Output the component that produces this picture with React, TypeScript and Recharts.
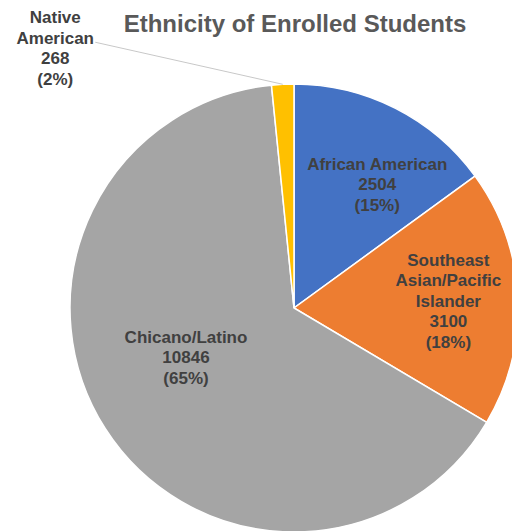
import { PieChart, Pie, Cell } from 'recharts';

const groups = ['African American', 'Southeast Asian/Pacific Islander', 'Chicano/Latino', 'Native American'];
const groupLines = [['African American'], ['Southeast', 'Asian/Pacific', 'Islander'], ['Chicano/Latino'], ['Native', 'American']];
const students = [2504, 3100, 10846, 268];
const percentText = ['15%', '18%', '65%', '2%'];
const colors = ['#4472C4', '#ED7D31', '#A5A5A5', '#FFC000'];

// label nudges (angle shift in degrees, radius factor) to mimic the office layout
const labelShift = [-7, 0, -8, 39.7];
const labelRadius = [0.665, 0.69, 0.53, 1.575];

const data = groups.map((g, i) => ({ name: g, value: students[i] }));

const RAD = Math.PI / 180;
const LINE_H = 20.5;

function SliceLabel(props: any) {
  const { cx, cy, midAngle, outerRadius, index } = props;
  const a = (midAngle + labelShift[index]) * RAD;
  const r = outerRadius * labelRadius[index];
  const x = cx + r * Math.cos(a);
  const y = cy - r * Math.sin(a);
  const lines = [...groupLines[index], String(students[index]), `(${percentText[index]})`];
  const top = y - ((lines.length - 1) * LINE_H) / 2;
  const edgeX = cx + outerRadius * Math.cos(midAngle * RAD);
  const edgeY = cy - outerRadius * Math.sin(midAngle * RAD);
  return (
    <g>
      {index === 3 && (
        <line x1={x + 40} y1={y - 6} x2={edgeX} y2={edgeY} stroke="#C8C8C8" strokeWidth={1} />
      )}
      <text
        x={x}
        y={top}
        textAnchor="middle"
        dominantBaseline="central"
        fill="#404040"
        fontSize={17}
        fontWeight="bold"
        fontFamily="'Liberation Sans', Arial, sans-serif"
      >
        {lines.map((l, i) => (
          <tspan key={i} x={x} y={top + i * LINE_H}>
            {l}
          </tspan>
        ))}
      </text>
    </g>
  );
}

export default function App() {
  return (
    <div style={{ position: 'absolute', left: 0, top: 0, width: 512, height: 531, background: '#fff', overflow: 'hidden' }}>
      <div
        style={{
          position: 'absolute',
          left: 0,
          width: 590,
          top: 10,
          textAlign: 'center',
          fontFamily: "'Liberation Sans', Arial, sans-serif",
          fontWeight: 'bold',
          fontSize: 24,
          color: '#595959',
        }}
      >
        Ethnicity of Enrolled Students
      </div>
      <PieChart
        width={512}
        height={531}
        margin={{ top: 0, right: 0, bottom: 0, left: 0 }}
        style={{ position: 'absolute', left: 0, top: 0 }}
      >
        <Pie
          data={data}
          dataKey="value"
          nameKey="name"
          cx={294}
          cy={308}
          outerRadius={224}
          startAngle={90}
          endAngle={-270}
          stroke="#fff"
          strokeWidth={1.5}
          label={SliceLabel}
          labelLine={false}
          isAnimationActive={false}
        >
          {data.map((d, i) => (
            <Cell key={d.name} fill={colors[i]} />
          ))}
        </Pie>
      </PieChart>
    </div>
  );
}
